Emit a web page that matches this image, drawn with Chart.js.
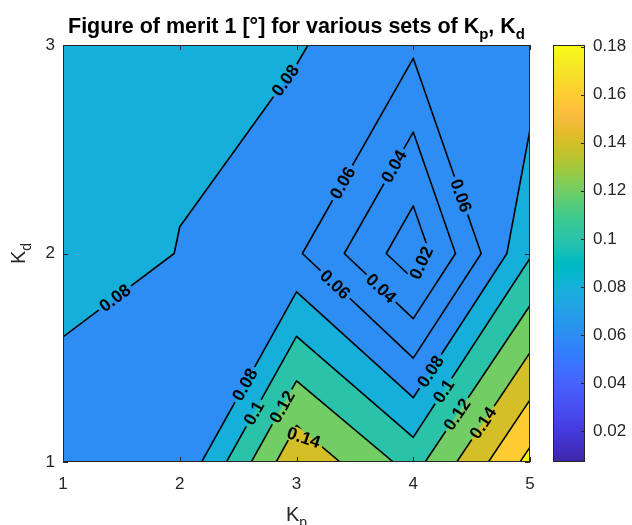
<!DOCTYPE html>
<html>
<head>
<meta charset="utf-8">
<script src="https://cdn.jsdelivr.net/npm/chart.js@4.4.1/dist/chart.umd.min.js"></script>
<style>
  html, body { margin: 0; padding: 0; background: #fff; }
  canvas { display: block; }
</style>
</head>
<body>
<canvas id="meritChart" width="632" height="525"></canvas>
<script>
// grid of the sweep
const kp = [1, 2, 3, 4, 5];
const kd = [1, 2, 3];

// figure of merit 1 [deg], one row per Kd value (Kp = 1..5)
const meritKd1 = [0.065, 0.0624, 0.1564, 0.1125, 0.1863];
const meritKd2 = [0.090, 0.0795, 0.0628, 0.0071, 0.098];
const meritKd3 = [0.088, 0.0834, 0.0818, 0.0636, 0.0677];

const levels = [0.02, 0.04, 0.06, 0.08, 0.1, 0.12, 0.14, 0.16, 0.18];
const colorbarTicks = [0.02, 0.04, 0.06, 0.08, 0.1, 0.12, 0.14, 0.16, 0.18];
const colorbarMin = 0.0071;
const colorbarMax = 0.1807;

// where the inline contour labels sit: [level, Kp, Kd]
const labelSpots = [
  [0.08, 2.88, 2.84], [0.08, 1.44, 1.79],
  [0.06, 3.39, 2.34], [0.04, 3.83, 2.42], [0.06, 4.42, 2.28], [0.02, 4.07, 1.96],
  [0.06, 3.33, 1.85], [0.04, 3.72, 1.83],
  [0.08, 2.56, 1.37], [0.1, 2.65, 1.23], [0.12, 2.89, 1.26], [0.14, 3.02, 1.13],
  [0.08, 4.16, 1.43], [0.1, 4.26, 1.34], [0.12, 4.37, 1.23], [0.14, 4.59, 1.19]
];

// everything under the 0.08 line gets the colour of this band (as in the original)
const baseLevel = 0.06;

const meritGrid = [meritKd1, meritKd2, meritKd3];

const parula = [
  [0.2422,0.1504,0.6603],[0.2504,0.1650,0.7076],[0.2578,0.1818,0.7511],[0.2647,0.1978,0.7952],
  [0.2706,0.2147,0.8364],[0.2751,0.2342,0.8710],[0.2783,0.2559,0.8991],[0.2803,0.2782,0.9221],
  [0.2813,0.3006,0.9414],[0.2810,0.3228,0.9579],[0.2795,0.3447,0.9717],[0.2760,0.3667,0.9829],
  [0.2699,0.3892,0.9906],[0.2602,0.4123,0.9952],[0.2440,0.4358,0.9988],[0.2206,0.4603,0.9973],
  [0.1963,0.4847,0.9892],[0.1834,0.5074,0.9798],[0.1786,0.5289,0.9682],[0.1764,0.5499,0.9520],
  [0.1687,0.5703,0.9359],[0.1540,0.5902,0.9218],[0.1460,0.6091,0.9079],[0.1380,0.6276,0.8973],
  [0.1248,0.6459,0.8883],[0.1113,0.6635,0.8763],[0.0952,0.6798,0.8598],[0.0689,0.6948,0.8394],
  [0.0297,0.7082,0.8163],[0.0036,0.7203,0.7917],[0.0067,0.7312,0.7660],[0.0433,0.7411,0.7394],
  [0.0964,0.7500,0.7120],[0.1408,0.7584,0.6842],[0.1717,0.7670,0.6554],[0.1938,0.7758,0.6251],
  [0.2161,0.7843,0.5923],[0.2470,0.7918,0.5567],[0.2906,0.7973,0.5188],[0.3406,0.8008,0.4789],
  [0.3909,0.8029,0.4354],[0.4456,0.8024,0.3909],[0.5044,0.7993,0.3480],[0.5616,0.7942,0.3045],
  [0.6174,0.7876,0.2612],[0.6720,0.7793,0.2227],[0.7242,0.7698,0.1910],[0.7738,0.7598,0.1646],
  [0.8203,0.7498,0.1535],[0.8634,0.7406,0.1596],[0.9035,0.7330,0.1774],[0.9393,0.7288,0.2100],
  [0.9728,0.7298,0.2394],[0.9956,0.7434,0.2371],[0.9970,0.7659,0.2199],[0.9952,0.7893,0.2028],
  [0.9892,0.8136,0.1885],[0.9786,0.8386,0.1766],[0.9676,0.8639,0.1643],[0.9610,0.8890,0.1537],
  [0.9597,0.9135,0.1423],[0.9628,0.9373,0.1265],[0.9691,0.9606,0.1064],[0.9769,0.9839,0.0805]
];

const FONT = '"Liberation Sans", Arial, Helvetica, sans-serif';
const INK = '#262626';
const labelFont = 'bold 17.5px ' + FONT;

function rgb(c) {
  return 'rgb(' + c.map(v => Math.round(v * 255)).join(',') + ')';
}

function levelColor(lev) {
  let t = (lev - colorbarMin) / (colorbarMax - colorbarMin);
  t = Math.max(0, Math.min(1, t)) * (parula.length - 1);
  const k = Math.min(Math.floor(t), parula.length - 2), f = t - k;
  return rgb(parula[k].map((v, n) => v + f * (parula[k + 1][n] - v)));
}

function cellCorners(i, j) {
  return [
    [kp[i], kd[j], meritGrid[j][i]],
    [kp[i + 1], kd[j], meritGrid[j][i + 1]],
    [kp[i + 1], kd[j + 1], meritGrid[j + 1][i + 1]],
    [kp[i], kd[j + 1], meritGrid[j + 1][i]]
  ];
}

function edgeCross(a, b, lev) {
  if (a[0] > b[0] || (a[0] === b[0] && a[1] > b[1])) { const t = a; a = b; b = t; }
  const f = (lev - a[2]) / (b[2] - a[2]);
  return { x: a[0] + f * (b[0] - a[0]), y: a[1] + f * (b[1] - a[1]) };
}

// region where merit >= lev, cell by cell
function superlevelPolygons(lev) {
  const polys = [];
  for (let j = 0; j < kd.length - 1; j++) {
    for (let i = 0; i < kp.length - 1; i++) {
      const c = cellCorners(i, j);
      const pts = [];
      for (let k = 0; k < 4; k++) {
        const a = c[k], b = c[(k + 1) % 4];
        if (a[2] >= lev) pts.push({ x: a[0], y: a[1] });
        if ((a[2] >= lev) !== (b[2] >= lev)) pts.push(edgeCross(a, b, lev));
      }
      if (pts.length >= 3) polys.push(pts);
    }
  }
  return polys;
}

function contourSegments(lev) {
  const segs = [];
  for (let j = 0; j < kd.length - 1; j++) {
    for (let i = 0; i < kp.length - 1; i++) {
      const c = cellCorners(i, j);
      const hits = [];
      for (let k = 0; k < 4; k++) {
        const a = c[k], b = c[(k + 1) % 4];
        if ((a[2] >= lev) !== (b[2] >= lev)) hits.push(edgeCross(a, b, lev));
      }
      for (let k = 0; k + 1 < hits.length; k += 2) segs.push([hits[k], hits[k + 1]]);
    }
  }
  return segs;
}

function chainSegments(segs) {
  const key = p => p.x.toFixed(6) + ',' + p.y.toFixed(6);
  const used = segs.map(() => false);
  const lines = [];
  function nextFrom(p) {
    for (let n = 0; n < segs.length; n++) {
      if (used[n]) continue;
      if (key(segs[n][0]) === key(p)) { used[n] = true; return segs[n][1]; }
      if (key(segs[n][1]) === key(p)) { used[n] = true; return segs[n][0]; }
    }
    return null;
  }
  for (let n = 0; n < segs.length; n++) {
    if (used[n]) continue;
    used[n] = true;
    const line = [segs[n][0], segs[n][1]];
    let p;
    while ((p = nextFrom(line[line.length - 1]))) line.push(p);
    while ((p = nextFrom(line[0]))) line.unshift(p);
    lines.push(line);
  }
  return lines;
}

const contourLines = levels.map(lev => chainSegments(contourSegments(lev)));

const datasets = levels.map((lev, n) => {
  const data = [];
  contourLines[n].forEach(line => {
    line.forEach(p => data.push({ x: p.x, y: p.y }));
    data.push({ x: NaN, y: NaN });
  });
  return {
    label: String(lev),
    data: data,
    yAxisID: 'y',
    showLine: true,
    spanGaps: false,
    fill: false,
    borderColor: '#000',
    borderWidth: 1.6,
    borderCapStyle: 'round',
    borderJoinStyle: 'round',
    pointRadius: 0,
    pointHoverRadius: 0
  };
});

// put a label on the contour nearest to the spot, turned along a chord of the line
function placeLabel(spot, toPx, ctx) {
  const lev = spot[0];
  const text = String(lev);
  const w = ctx.measureText(text).width;
  const target = toPx({ x: spot[1], y: spot[2] });
  const lines = contourLines[levels.indexOf(lev)].map(l => l.map(toPx));
  let best = null;
  lines.forEach(pts => {
    let acc = 0;
    for (let k = 0; k < pts.length - 1; k++) {
      const a = pts[k], b = pts[k + 1];
      const dx = b.x - a.x, dy = b.y - a.y, len = Math.hypot(dx, dy);
      let t = len ? ((target.x - a.x) * dx + (target.y - a.y) * dy) / (len * len) : 0;
      t = Math.max(0, Math.min(1, t));
      const d = Math.hypot(a.x + t * dx - target.x, a.y + t * dy - target.y);
      if (!best || d < best.d) best = { d: d, pts: pts, s: acc + t * len };
      acc += len;
    }
  });
  const pts = best.pts;
  const cum = [0];
  for (let k = 1; k < pts.length; k++) cum.push(cum[k - 1] + Math.hypot(pts[k].x - pts[k - 1].x, pts[k].y - pts[k - 1].y));
  function at(s) {
    s = Math.max(0, Math.min(cum[cum.length - 1], s));
    let k = 0;
    while (k < cum.length - 2 && cum[k + 1] < s) k++;
    const seg = cum[k + 1] - cum[k] || 1, f = (s - cum[k]) / seg;
    return { x: pts[k].x + f * (pts[k + 1].x - pts[k].x), y: pts[k].y + f * (pts[k + 1].y - pts[k].y) };
  }
  const p1 = at(best.s - w / 2), p2 = at(best.s + w / 2);
  let ang = Math.atan2(p2.y - p1.y, p2.x - p1.x);
  if (ang > Math.PI / 2) ang -= Math.PI;
  if (ang < -Math.PI / 2) ang += Math.PI;
  return { text: text, w: w, x: (p1.x + p2.x) / 2, y: (p1.y + p2.y) / 2, ang: ang };
}

function drawRich(ctx, parts, x, y) {
  let total = 0;
  parts.forEach(p => { ctx.font = p.font; p.w = ctx.measureText(p.text).width; total += p.w; });
  let cx = x - total / 2;
  ctx.textAlign = 'left';
  ctx.textBaseline = 'alphabetic';
  parts.forEach(p => {
    ctx.font = p.font;
    ctx.fillText(p.text, cx, y + (p.dy || 0));
    cx += p.w;
  });
}

// keep the plot box exactly where the original has it
function noOverflow(s) {
  s.paddingTop = 0; s.paddingBottom = 0; s.paddingLeft = 0; s.paddingRight = 0;
}

const contourPlugin = {
  id: 'contourPlugin',
  beforeDatasetsDraw(chart) {
    const ctx = chart.ctx, xs = chart.scales.x, ys = chart.scales.y;
    const toPx = p => ({ x: xs.getPixelForValue(p.x), y: ys.getPixelForValue(p.y) });

    ctx.save();
    const c0 = toPx({ x: kp[0], y: kd[0] });
    const c1 = toPx({ x: kp[kp.length - 1], y: kd[kd.length - 1] });
    ctx.fillStyle = levelColor(baseLevel);
    ctx.fillRect(c0.x, c1.y, c1.x - c0.x, c0.y - c1.y);
    levels.filter(l => l > baseLevel).forEach(lev => {
      ctx.beginPath();
      superlevelPolygons(lev).forEach(poly => {
        poly.forEach((p, k) => {
          const q = toPx(p);
          if (k) ctx.lineTo(q.x, q.y); else ctx.moveTo(q.x, q.y);
        });
        ctx.closePath();
      });
      ctx.fillStyle = levelColor(lev);
      ctx.fill();
    });
    ctx.restore();

    // leave gaps in the lines where the labels go
    ctx.font = labelFont;
    chart.$labels = labelSpots.map(s => placeLabel(s, toPx, ctx));
    ctx.save();
    ctx.beginPath();
    ctx.rect(0, 0, chart.width, chart.height);
    chart.$labels.forEach(l => {
      const hw = l.w / 2 + 3, hh = 7.5;
      const cs = Math.cos(l.ang), sn = Math.sin(l.ang);
      const corners = [[-hw, -hh], [hw, -hh], [hw, hh], [-hw, hh]].map(c => [l.x + c[0] * cs - c[1] * sn, l.y + c[0] * sn + c[1] * cs]);
      ctx.moveTo(corners[0][0], corners[0][1]);
      corners.slice(1).forEach(c => ctx.lineTo(c[0], c[1]));
      ctx.closePath();
    });
    ctx.clip('evenodd');
  },
  afterDatasetsDraw(chart) {
    const ctx = chart.ctx;
    ctx.restore();
    ctx.save();
    ctx.font = labelFont;
    ctx.fillStyle = '#000';
    ctx.textAlign = 'center';
    ctx.textBaseline = 'middle';
    chart.$labels.forEach(l => {
      ctx.save();
      ctx.translate(l.x, l.y);
      ctx.rotate(l.ang);
      ctx.fillText(l.text, 0, 1);
      ctx.restore();
    });
    ctx.restore();
  },
  afterDraw(chart) {
    const ctx = chart.ctx, area = chart.chartArea;
    const xs = chart.scales.x, ys = chart.scales.y, cb = chart.scales.cb;
    ctx.save();

    // axes box with inward ticks
    ctx.strokeStyle = INK;
    ctx.lineWidth = 1;
    ctx.strokeRect(area.left + 0.5, area.top + 0.5, area.right - area.left - 1, area.bottom - area.top - 1);
    ctx.beginPath();
    kp.forEach(v => {
      const x = Math.round(xs.getPixelForValue(v)) + 0.5;
      ctx.moveTo(x, area.bottom); ctx.lineTo(x, area.bottom - 5);
      ctx.moveTo(x, area.top); ctx.lineTo(x, area.top + 5);
    });
    kd.forEach(v => {
      const y = Math.round(ys.getPixelForValue(v)) + 0.5;
      ctx.moveTo(area.left, y); ctx.lineTo(area.left + 5, y);
      ctx.moveTo(area.right, y); ctx.lineTo(area.right - 5, y);
    });
    ctx.stroke();

    // colour bar
    const top = cb.getPixelForValue(colorbarMax), bottom = cb.getPixelForValue(colorbarMin);
    const left = area.right + 23, width = 32;
    const grad = ctx.createLinearGradient(0, bottom, 0, top);
    parula.forEach((c, k) => grad.addColorStop(k / (parula.length - 1), rgb(c)));
    ctx.fillStyle = grad;
    ctx.fillRect(left, top, width, bottom - top);
    ctx.strokeRect(left + 0.5, top + 0.5, width - 1, bottom - top - 1);
    ctx.beginPath();
    colorbarTicks.forEach(v => {
      const y = Math.round(cb.getPixelForValue(v)) + 0.5;
      ctx.moveTo(left + width, y); ctx.lineTo(left + width - 4, y);
    });
    ctx.stroke();

    // title and axis names
    const midX = (area.left + area.right) / 2, midY = (area.top + area.bottom) / 2;
    ctx.fillStyle = '#000';
    drawRich(ctx, [
      { text: 'Figure of merit 1 [°] for various sets of K', font: 'bold 21.5px ' + FONT },
      { text: 'p', font: 'bold 15px ' + FONT, dy: 6 },
      { text: ', K', font: 'bold 21.5px ' + FONT },
      { text: 'd', font: 'bold 15px ' + FONT, dy: 6 }
    ], midX, 33);
    ctx.fillStyle = INK;
    drawRich(ctx, [
      { text: 'K', font: '20px ' + FONT },
      { text: 'p', font: '14px ' + FONT, dy: 6 }
    ], midX, 521);
    ctx.save();
    ctx.translate(25, midY);
    ctx.rotate(-Math.PI / 2);
    drawRich(ctx, [
      { text: 'K', font: '20px ' + FONT },
      { text: 'd', font: '14px ' + FONT, dy: 6 }
    ], 0, 0);
    ctx.restore();

    ctx.restore();
  }
};

Chart.defaults.font.family = FONT;

new Chart(document.getElementById('meritChart'), {
  type: 'scatter',
  data: { datasets: datasets },
  options: {
    responsive: false,
    animation: false,
    events: [],
    layout: { padding: { top: 45, left: 0, right: 0, bottom: 0 } },
    plugins: {
      legend: { display: false },
      tooltip: { enabled: false },
      title: { display: false }
    },
    scales: {
      x: {
        type: 'linear', position: 'bottom', min: 1, max: 5,
        grid: { display: false, drawTicks: false },
        border: { display: false },
        ticks: { stepSize: 1, color: INK, font: { size: 17 }, padding: 12 },
        afterFit: s => { s.height = 63; noOverflow(s); }
      },
      y: {
        type: 'linear', position: 'left', min: 1, max: 3,
        grid: { display: false, drawTicks: false },
        border: { display: false },
        ticks: { stepSize: 1, color: INK, font: { size: 17 }, padding: 8 },
        afterFit: s => { s.width = 63; noOverflow(s); }
      },
      cb: {
        type: 'linear', axis: 'y', position: 'right', min: colorbarMin, max: colorbarMax,
        grid: { display: false, drawTicks: false },
        border: { display: false },
        ticks: { color: INK, font: { size: 17 }, padding: 63, callback: v => String(+v.toFixed(2)) },
        afterBuildTicks: s => { s.ticks = colorbarTicks.map(v => ({ value: v })); },
        afterFit: s => { s.width = 102; noOverflow(s); }
      }
    }
  },
  plugins: [contourPlugin]
});
</script>
</body>
</html>
